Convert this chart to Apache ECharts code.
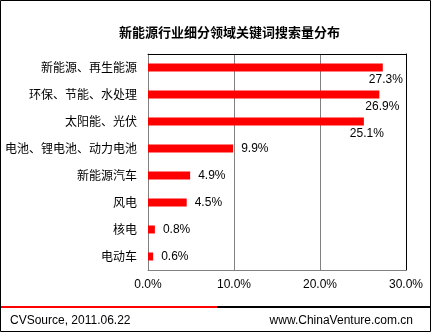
<!DOCTYPE html>
<html>
<head>
<meta charset="utf-8">
<script src="https://cdn.jsdelivr.net/npm/echarts@6/dist/echarts.min.js"></script>
<style>html,body{margin:0;padding:0;background:#fff;}#c{width:433px;height:333px;}</style>
</head>
<body>
<div id="c"></div>
<script>
var titleText = '新能源行业细分领域关键词搜索量分布';
var categories = ['新能源、再生能源','环保、节能、水处理','太阳能、光伏','电池、锂电池、动力电池','新能源汽车','风电','核电','电动车'];
var values = [27.3, 26.9, 25.1, 9.9, 4.9, 4.5, 0.8, 0.6];
var xTicks = [0, 10, 20, 30];
var sourceText = 'CVSource, 2011.06.22';
var siteText = 'www.ChinaVenture.com.cn';

var chart = echarts.init(document.getElementById('c'), null, {renderer: 'canvas'});
var numFont = '"Liberation Sans", Arial, sans-serif';
var cjkFont = '"Noto Sans CJK SC", sans-serif';

var seriesData = values.map(function (v) {
  var item = {value: v};
  if (v > 20) {
    item.label = {position: 'right', distance: 5, offset: [-19, 12]};
  }
  return item;
});

chart.setOption({
  animation: false,
  backgroundColor: '#ffffff',
  title: {
    text: titleText,
    left: 114,
    top: 21,
    textStyle: {fontFamily: cjkFont, fontSize: 13, fontWeight: 'bold', color: '#000'}
  },
  grid: {left: 148, top: 54, right: 27, bottom: 63, containLabel: false},
  xAxis: [{
    type: 'value',
    min: xTicks[0],
    max: xTicks[xTicks.length - 1],
    interval: 10,
    axisLine: {show: true, lineStyle: {color: '#808080', width: 1}},
    axisTick: {show: false},
    axisLabel: {margin: 9, color: '#000', fontFamily: numFont, fontSize: 12,
      formatter: function (v) { return v.toFixed(1) + '%'; }},
    splitLine: {show: true, lineStyle: {color: '#808080', width: 1}}
  }, {
    type: 'value',
    position: 'top',
    min: 0, max: 30, interval: 10,
    axisLine: {show: true, onZero: false, lineStyle: {color: '#000', width: 1}},
    axisTick: {show: false},
    axisLabel: {show: false},
    splitLine: {show: false}
  }],
  yAxis: [{
    type: 'category',
    data: categories,
    inverse: true,
    axisLine: {show: true, lineStyle: {color: '#808080', width: 1}},
    axisTick: {show: false},
    axisLabel: {margin: 11, color: '#000', fontFamily: cjkFont, fontSize: 12},
    splitLine: {show: false}
  }, {
    type: 'category',
    data: categories,
    inverse: true,
    position: 'right',
    axisLine: {show: true, onZero: false, lineStyle: {color: '#000', width: 1}},
    axisTick: {show: false},
    axisLabel: {show: false}
  }],
  series: [{
    type: 'bar',
    xAxisIndex: 0,
    yAxisIndex: 0,
    data: seriesData,
    barWidth: 8,
    itemStyle: {color: '#ff0000'},
    label: {
      show: true,
      position: 'right',
      distance: 8,
      color: '#000',
      fontFamily: numFont,
      fontSize: 12,
      formatter: function (p) { return p.value.toFixed(1) + '%'; }
    }
  }],
  graphic: [
    {type: 'rect', shape: {x: 0.5, y: 0.5, width: 430, height: 331},
     style: {fill: 'none', stroke: '#000', lineWidth: 1}, silent: true, z: 100},
    {type: 'line', shape: {x1: 1, y1: 307, x2: 217, y2: 307},
     style: {stroke: '#ff0000', lineWidth: 2}, silent: true},
    {type: 'line', shape: {x1: 217, y1: 307, x2: 430, y2: 307},
     style: {stroke: '#000000', lineWidth: 2}, silent: true},
    {type: 'text', left: 10, top: 315,
     style: {text: sourceText, font: '12px ' + numFont, fill: '#000'}},
    {type: 'text', right: 20, top: 315,
     style: {text: siteText, font: '12px ' + numFont, fill: '#000'}}
  ]
});
</script>
</body>
</html>
